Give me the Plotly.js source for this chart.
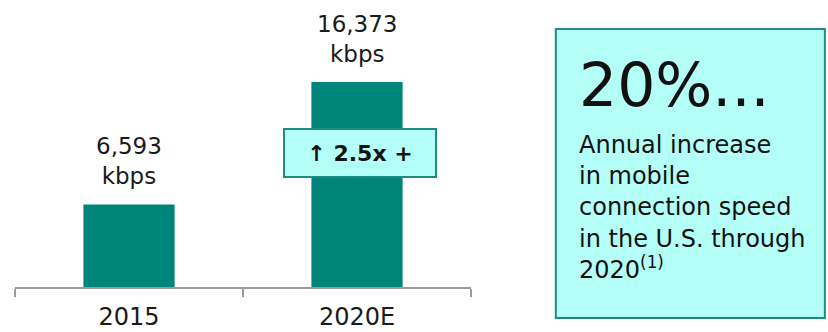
<!DOCTYPE html>
<html>
<head>
<meta charset="utf-8">
<script src="https://cdn.plot.ly/plotly-3.0.1.min.js"></script>
<style>
  html, body { margin: 0; padding: 0; background: #fff; }
  #chart { width: 828px; height: 332px; }
</style>
</head>
<body>
<div id="chart"></div>
<script>
// Average mobile connection speed in the U.S.
const years = ['2015', '2020E'];
const speedKbps = [6593, 16373];
const speedUnit = 'kbps';
const growthLabel = '↑ 2.5x +';
const headline = '20%...';
const headlineNote = ['Annual increase', 'in mobile', 'connection speed', 'in the U.S. through', '2020<sup>(1)</sup>'];

const FONT = 'DejaVu Sans, sans-serif';
const TEAL = '#00857A';
const PALE = '#B3FFF8';
const BORDER = '#1E8C82';
const INK = '#1a1a1a';

const fmt = v => v.toLocaleString('en-US');

const trace = {
  type: 'bar',
  x: years,
  y: speedKbps,
  width: 0.4,
  marker: { color: TEAL },
  hoverinfo: 'skip'
};

// value labels above each bar (category index, so "2015" is not read as a number)
const valueNotes = years.map((yr, i) => ({
  x: i, y: speedKbps[i], xref: 'x', yref: 'y',
  text: fmt(speedKbps[i]) + '<br>' + speedUnit,
  showarrow: false, yanchor: 'bottom', yshift: 13,
  font: { family: FONT, size: 23, color: INK }
}));

const growthNote = {
  x: 1, xref: 'x', xshift: 3,
  y: 0.467, yref: 'paper',
  text: '<b>' + growthLabel + '</b>',
  showarrow: false, xanchor: 'center', yanchor: 'middle',
  width: 150, height: 46,
  bgcolor: PALE, bordercolor: BORDER, borderwidth: 2, borderpad: 0,
  font: { family: FONT, size: 22, color: '#111' }
};

const headNote = {
  x: 1.232, xref: 'paper', y: 0.575, yref: 'paper',
  xanchor: 'left', yanchor: 'bottom', showarrow: false,
  text: headline, align: 'left',
  font: { family: FONT, size: 60, color: '#111' }
};

const bodyNote = {
  x: 1.232, xref: 'paper', y: 0.549, yref: 'paper',
  xanchor: 'left', yanchor: 'top', showarrow: false,
  text: headlineNote.join('<br>'), align: 'left',
  font: { family: FONT, size: 24, color: '#111' }
};

const layout = {
  width: 828, height: 332,
  margin: { l: 15, r: 357, t: 0, b: 45 },
  paper_bgcolor: '#fff', plot_bgcolor: '#fff',
  showlegend: false,
  xaxis: {
    type: 'category', range: [-0.5, 1.5], autorange: false,
    showline: true, linecolor: '#9a9a9a', linewidth: 2,
    ticks: 'outside', tickson: 'boundaries', ticklen: 8, tickwidth: 2, tickcolor: '#9a9a9a',
    showgrid: false, zeroline: false,
    tickfont: { family: FONT, size: 24, color: INK },
    tickangle: 0, ticklabelstandoff: 7
  },
  yaxis: {
    range: [0, 22920], autorange: false, visible: false, showgrid: false, zeroline: false
  },
  shapes: [{
    type: 'rect', xref: 'paper', yref: 'paper',
    x0: 1.186, x1: 1.776, y0: -0.108, y1: 0.899,
    fillcolor: PALE, line: { color: BORDER, width: 2 }, layer: 'below'
  }],
  annotations: [...valueNotes, growthNote, headNote, bodyNote]
};

Plotly.newPlot('chart', [trace], layout, { staticPlot: true, displayModeBar: false });
</script>
</body>
</html>
